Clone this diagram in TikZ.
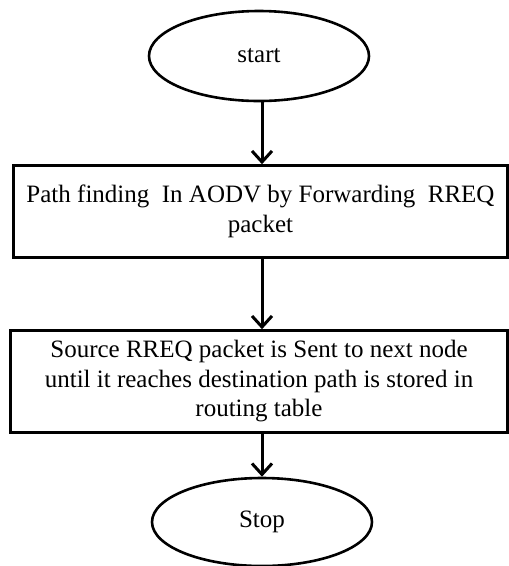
\documentclass[tikz,border=0pt]{standalone}
\usepackage{fontspec}
\setmainfont{Liberation Serif}
\usetikzlibrary{shapes.geometric,arrows.meta}
\tikzset{
  term/.style={ellipse, draw, line width=2.6pt, minimum width=220pt, minimum height=90pt, inner sep=0pt, font=\fontsize{25}{29}\selectfont},
  procbox/.style={rectangle, draw, line width=2.6pt, inner sep=0pt, align=center, font=\fontsize{25}{29.5}\selectfont},
  arr/.style={line width=3pt, -{Straight Barb[length=11pt,width=20pt,line width=3pt]}}
}
\begin{document}
\begin{tikzpicture}[x=1pt,y=-1pt]
\useasboundingbox (0,0) rectangle (509,566);
\node[term] (start) at (259,56) {start};
\coordinate (ax) at (262,56);
\node[procbox, minimum width=494pt, minimum height=92pt] (b1) at (260.5,211.5) {Path finding\ \ In AODV by Forwarding\ \ RREQ\\packet};
\node[procbox, minimum width=497pt, minimum height=102pt] (b2) at (259,381.5) {Source RREQ packet is Sent to next node\\until it reaches destination path is stored in\\routing table};
\node[term, minimum height=88pt] (stop) at (262,522) {Stop};
\draw[arr] (ax |- start.south) -- (ax |- b1.north);
\draw[arr] (ax |- b1.south) -- (ax |- b2.north);
\draw[arr] (ax |- b2.south) -- (stop.north);
\end{tikzpicture}
\end{document}
